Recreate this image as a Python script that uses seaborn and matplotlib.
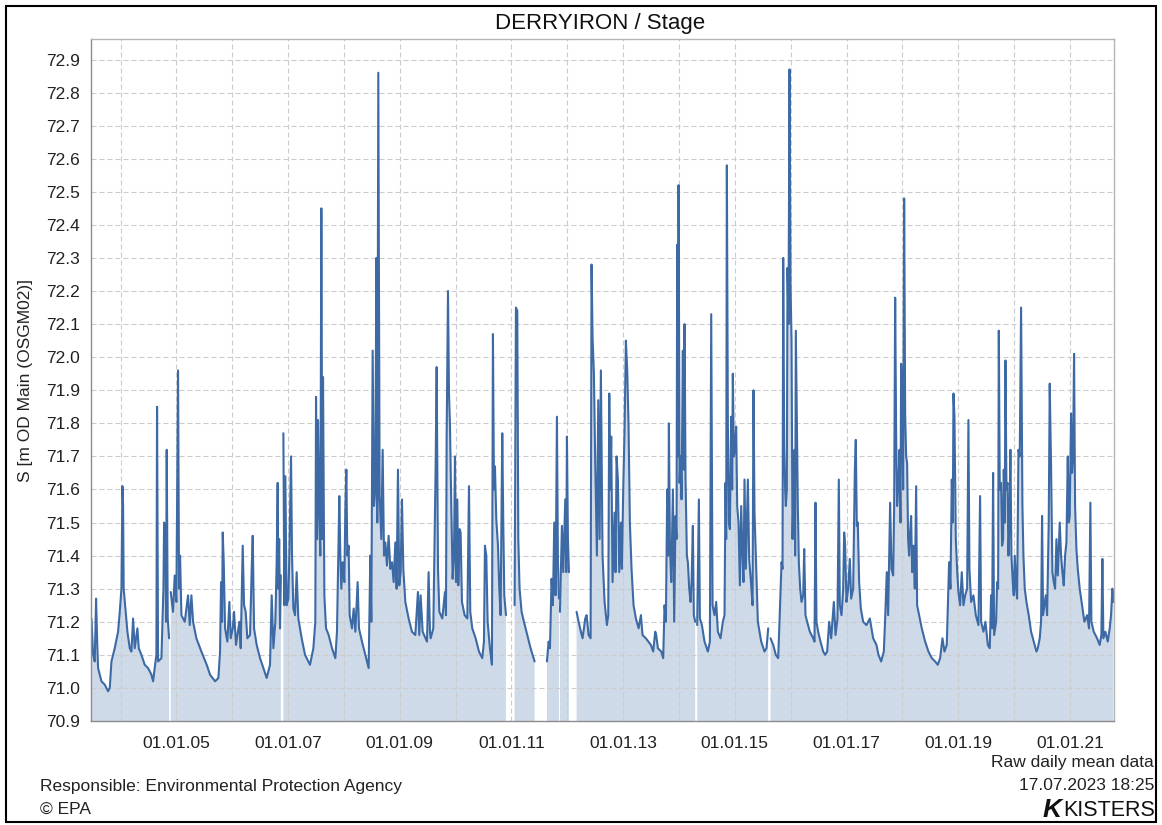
import numpy as np
import pandas as pd
import matplotlib
matplotlib.use('Agg')
import matplotlib.pyplot as plt
import seaborn as sns
from matplotlib.patches import Rectangle
from matplotlib.ticker import MultipleLocator, FixedLocator, FixedFormatter

# Valores: ano decimal e cota (m OD)
years = [
    2003.478, 2003.508, 2003.537, 2003.561, 2003.579, 2003.597, 2003.657, 2003.716, 2003.776, 2003.806, 2003.836, 2003.895,
    2003.955, 2003.985, 2004.015, 2004.033, 2004.045, 2004.055, 2004.086, 2004.122, 2004.164, 2004.194, 2004.224, 2004.253,
    2004.301, 2004.325, 2004.373, 2004.432, 2004.492, 2004.552, 2004.582, 2004.611, 2004.641, 2004.653, 2004.671, 2004.731,
    2004.767, 2004.779, 2004.802, 2004.814, 2004.826, 2004.844, 2004.868, 2004.898, 2004.939, 2004.969, 2004.999, 2005.029,
    2005.047, 2005.065, 2005.089, 2005.149, 2005.208, 2005.238, 2005.268, 2005.298, 2005.357, 2005.447, 2005.542, 2005.602,
    2005.692, 2005.751, 2005.781, 2005.799, 2005.817, 2005.829, 2005.847, 2005.871, 2005.912, 2005.948, 2005.972, 2006.008,
    2006.032, 2006.067, 2006.127, 2006.151, 2006.187, 2006.211, 2006.240, 2006.270, 2006.318, 2006.348, 2006.366, 2006.390,
    2006.437, 2006.497, 2006.557, 2006.616, 2006.676, 2006.706, 2006.736, 2006.771, 2006.795, 2006.813, 2006.825, 2006.840,
    2006.855, 2006.870, 2006.915, 2006.933, 2006.950, 2006.974, 2007.004, 2007.022, 2007.052, 2007.070, 2007.094, 2007.124,
    2007.153, 2007.183, 2007.243, 2007.303, 2007.392, 2007.452, 2007.487, 2007.500, 2007.518, 2007.535, 2007.559, 2007.577,
    2007.595, 2007.613, 2007.625, 2007.649, 2007.679, 2007.726, 2007.786, 2007.846, 2007.875, 2007.917, 2007.935, 2007.953,
    2007.977, 2008.007, 2008.025, 2008.043, 2008.060, 2008.084, 2008.102, 2008.144, 2008.174, 2008.204, 2008.245, 2008.269,
    2008.323, 2008.383, 2008.442, 2008.472, 2008.490, 2008.514, 2008.538, 2008.562, 2008.580, 2008.597, 2008.615, 2008.639,
    2008.669, 2008.693, 2008.717, 2008.741, 2008.770, 2008.800, 2008.830, 2008.860, 2008.890, 2008.920, 2008.943, 2008.967,
    2008.991, 2009.015, 2009.039, 2009.063, 2009.099, 2009.158, 2009.218, 2009.278, 2009.325, 2009.349, 2009.373, 2009.409,
    2009.487, 2009.516, 2009.540, 2009.552, 2009.600, 2009.642, 2009.660, 2009.684, 2009.708, 2009.761, 2009.809, 2009.827,
    2009.839, 2009.863, 2009.881, 2009.898, 2009.922, 2009.946, 2009.970, 2009.988, 2010.006, 2010.030, 2010.048, 2010.071,
    2010.089, 2010.113, 2010.161, 2010.209, 2010.239, 2010.262, 2010.298, 2010.358, 2010.418, 2010.477, 2010.507, 2010.525,
    2010.549, 2010.573, 2010.614, 2010.650, 2010.668, 2010.686, 2010.704, 2010.728, 2010.758, 2010.782, 2010.805, 2010.835,
    2010.853, 2010.871, 2010.901, 2011.056, 2011.080, 2011.104, 2011.122, 2011.145, 2011.181, 2011.223, 2011.283, 2011.342,
    2011.414, 2011.635, 2011.665, 2011.689, 2011.718, 2011.742, 2011.766, 2011.790, 2011.814, 2011.832, 2011.850, 2011.868,
    2011.903, 2011.927, 2011.963, 2011.981, 2011.993, 2012.011, 2012.029, 2012.166, 2012.202, 2012.243, 2012.273, 2012.321,
    2012.345, 2012.381, 2012.417, 2012.434, 2012.452, 2012.476, 2012.500, 2012.530, 2012.554, 2012.578, 2012.601, 2012.631,
    2012.667, 2012.709, 2012.733, 2012.751, 2012.769, 2012.786, 2012.810, 2012.846, 2012.864, 2012.882, 2012.906, 2012.930,
    2012.959, 2012.977, 2013.001, 2013.025, 2013.049, 2013.073, 2013.097, 2013.120, 2013.150, 2013.186, 2013.228, 2013.276,
    2013.318, 2013.347, 2013.407, 2013.496, 2013.538, 2013.574, 2013.592, 2013.622, 2013.682, 2013.717, 2013.741, 2013.765,
    2013.789, 2013.807, 2013.819, 2013.837, 2013.861, 2013.891, 2013.914, 2013.938, 2013.956, 2013.968, 2013.980, 2013.992,
    2014.010, 2014.028, 2014.046, 2014.069, 2014.087, 2014.099, 2014.117, 2014.141, 2014.159, 2014.183, 2014.207, 2014.225,
    2014.248, 2014.266, 2014.290, 2014.326, 2014.356, 2014.374, 2014.410, 2014.457, 2014.517, 2014.553, 2014.577, 2014.601,
    2014.636, 2014.666, 2014.696, 2014.744, 2014.785, 2014.815, 2014.833, 2014.845, 2014.857, 2014.875, 2014.893, 2014.911,
    2014.935, 2014.952, 2014.964, 2014.982, 2015.000, 2015.024, 2015.042, 2015.066, 2015.090, 2015.114, 2015.137, 2015.155,
    2015.173, 2015.197, 2015.233, 2015.257, 2015.293, 2015.317, 2015.334, 2015.352, 2015.376, 2015.412, 2015.472, 2015.531,
    2015.567, 2015.597, 2015.639, 2015.687, 2015.734, 2015.776, 2015.806, 2015.836, 2015.854, 2015.866, 2015.884, 2015.901,
    2015.913, 2015.931, 2015.943, 2015.961, 2015.979, 2015.997, 2016.015, 2016.033, 2016.051, 2016.069, 2016.080, 2016.092,
    2016.110, 2016.128, 2016.146, 2016.170, 2016.194, 2016.224, 2016.242, 2016.265, 2016.295, 2016.343, 2016.403, 2016.427,
    2016.444, 2016.462, 2016.492, 2016.534, 2016.582, 2016.617, 2016.653, 2016.689, 2016.725, 2016.773, 2016.803, 2016.838,
    2016.862, 2016.880, 2016.910, 2016.940, 2016.958, 2016.975, 2016.999, 2017.029, 2017.059, 2017.083, 2017.119, 2017.149,
    2017.166, 2017.184, 2017.202, 2017.226, 2017.256, 2017.298, 2017.357, 2017.417, 2017.477, 2017.536, 2017.572, 2017.620,
    2017.668, 2017.692, 2017.721, 2017.745, 2017.781, 2017.805, 2017.835, 2017.853, 2017.871, 2017.889, 2017.906, 2017.930,
    2017.948, 2017.966, 2017.978, 2017.996, 2018.014, 2018.032, 2018.050, 2018.068, 2018.085, 2018.103, 2018.121, 2018.139,
    2018.157, 2018.175, 2018.199, 2018.223, 2018.247, 2018.264, 2018.300, 2018.348, 2018.408, 2018.467, 2018.527, 2018.587,
    2018.634, 2018.676, 2018.718, 2018.754, 2018.795, 2018.837, 2018.861, 2018.885, 2018.903, 2018.915, 2018.933, 2018.957,
    2018.980, 2019.004, 2019.034, 2019.064, 2019.094, 2019.124, 2019.160, 2019.183, 2019.201, 2019.231, 2019.273, 2019.315,
    2019.362, 2019.392, 2019.410, 2019.452, 2019.488, 2019.530, 2019.565, 2019.589, 2019.607, 2019.625, 2019.643, 2019.679,
    2019.697, 2019.715, 2019.727, 2019.744, 2019.768, 2019.786, 2019.804, 2019.816, 2019.834, 2019.846, 2019.864, 2019.882,
    2019.900, 2019.917, 2019.935, 2019.953, 2019.977, 2019.995, 2020.013, 2020.037, 2020.055, 2020.079, 2020.102, 2020.126,
    2020.150, 2020.168, 2020.192, 2020.222, 2020.263, 2020.305, 2020.353, 2020.401, 2020.425, 2020.460, 2020.484, 2020.502,
    2020.520, 2020.544, 2020.568, 2020.592, 2020.621, 2020.639, 2020.663, 2020.687, 2020.711, 2020.735, 2020.759, 2020.783,
    2020.818, 2020.842, 2020.866, 2020.890, 2020.914, 2020.938, 2020.962, 2020.979, 2020.997, 2021.021, 2021.039, 2021.057,
    2021.075, 2021.093, 2021.117, 2021.141, 2021.176, 2021.218, 2021.260, 2021.308, 2021.343, 2021.367, 2021.385, 2021.427,
    2021.487, 2021.534, 2021.564, 2021.582, 2021.600, 2021.636, 2021.678, 2021.713, 2021.737, 2021.761, 2021.779,
]

stage = [
    71.21, 71.10, 71.08, 71.27, 71.15, 71.06, 71.02, 71.01, 70.99, 71.00, 71.08, 71.12,
    71.17, 71.23, 71.30, 71.61, 71.55, 71.30, 71.24, 71.17, 71.12, 71.11, 71.21, 71.12,
    71.18, 71.12, 71.10, 71.07, 71.06, 71.04, 71.02, 71.06, 71.10, 71.85, 71.08, 71.09,
    71.30, 71.50, 71.47, 71.20, 71.72, 71.21, 71.15, 71.29, 71.23, 71.34, 71.26, 71.96,
    71.30, 71.40, 71.22, 71.20, 71.28, 71.19, 71.28, 71.20, 71.15, 71.11, 71.07, 71.04,
    71.02, 71.03, 71.11, 71.32, 71.20, 71.47, 71.38, 71.18, 71.14, 71.26, 71.15, 71.18,
    71.23, 71.13, 71.20, 71.12, 71.43, 71.25, 71.23, 71.15, 71.16, 71.36, 71.46, 71.18,
    71.13, 71.09, 71.06, 71.03, 71.07, 71.28, 71.12, 71.20, 71.38, 71.62, 71.30, 71.45,
    71.18, 71.34, 71.77, 71.25, 71.64, 71.25, 71.27, 71.40, 71.70, 71.40, 71.24, 71.22,
    71.35, 71.21, 71.15, 71.10, 71.07, 71.12, 71.20, 71.88, 71.45, 71.81, 71.52, 71.40,
    72.45, 71.45, 71.94, 71.28, 71.18, 71.16, 71.12, 71.09, 71.17, 71.58, 71.40, 71.30,
    71.38, 71.32, 71.54, 71.66, 71.40, 71.43, 71.22, 71.18, 71.24, 71.17, 71.32, 71.18,
    71.14, 71.10, 71.06, 71.40, 71.20, 72.02, 71.55, 71.60, 72.30, 71.50, 72.86, 71.58,
    71.45, 71.72, 71.40, 71.44, 71.37, 71.46, 71.36, 71.38, 71.32, 71.44, 71.30, 71.66,
    71.31, 71.35, 71.57, 71.36, 71.26, 71.21, 71.17, 71.16, 71.29, 71.16, 71.28, 71.17,
    71.14, 71.35, 71.17, 71.15, 71.18, 71.67, 71.97, 71.36, 71.23, 71.21, 71.29, 71.22,
    71.76, 72.20, 71.89, 71.80, 71.55, 71.33, 71.40, 71.70, 71.32, 71.57, 71.31, 71.48,
    71.47, 71.26, 71.22, 71.21, 71.61, 71.23, 71.18, 71.15, 71.11, 71.09, 71.14, 71.43,
    71.40, 71.20, 71.12, 71.07, 72.07, 71.60, 71.67, 71.51, 71.43, 71.30, 71.22, 71.77,
    71.50, 71.28, 71.22, 71.25, 72.15, 72.14, 71.45, 71.30, 71.23, 71.20, 71.16, 71.12,
    71.08, 71.08, 71.14, 71.12, 71.33, 71.25, 71.50, 71.28, 71.82, 71.38, 71.27, 71.23,
    71.49, 71.35, 71.57, 71.35, 71.76, 71.45, 71.35, 71.23, 71.20, 71.17, 71.15, 71.21,
    71.22, 71.16, 71.15, 72.28, 72.06, 71.95, 71.68, 71.40, 71.87, 71.45, 71.96, 71.40,
    71.26, 71.19, 71.22, 71.89, 71.60, 71.76, 71.32, 71.53, 71.35, 71.70, 71.63, 71.35,
    71.50, 71.36, 71.60, 71.78, 72.05, 71.96, 71.79, 71.50, 71.36, 71.25, 71.21, 71.18,
    71.22, 71.16, 71.15, 71.13, 71.11, 71.17, 71.16, 71.12, 71.11, 71.09, 71.25, 71.20,
    71.60, 71.40, 71.80, 71.43, 71.32, 71.60, 71.20, 71.52, 71.45, 72.34, 71.70, 72.52,
    71.62, 71.70, 71.57, 72.02, 71.66, 72.10, 71.63, 71.40, 71.38, 71.30, 71.26, 71.32,
    71.49, 71.22, 71.20, 71.19, 71.57, 71.21, 71.19, 71.14, 71.11, 71.14, 72.13, 71.25,
    71.22, 71.26, 71.17, 71.15, 71.20, 71.22, 71.62, 71.45, 72.58, 71.80, 71.50, 71.48,
    71.82, 71.60, 71.95, 71.70, 71.72, 71.79, 71.55, 71.50, 71.31, 71.55, 71.40, 71.32,
    71.63, 71.36, 71.63, 71.39, 71.31, 71.25, 71.90, 71.53, 71.40, 71.20, 71.14, 71.11,
    71.12, 71.18, 71.15, 71.13, 71.10, 71.09, 71.23, 71.38, 71.36, 72.30, 71.73, 71.60,
    71.55, 71.60, 72.27, 72.10, 72.87, 72.22, 72.05, 71.45, 71.60, 71.72, 71.40, 72.08,
    71.80, 71.55, 71.38, 71.30, 71.26, 71.28, 71.42, 71.22, 71.20, 71.17, 71.15, 71.14,
    71.56, 71.20, 71.17, 71.14, 71.11, 71.10, 71.11, 71.20, 71.15, 71.26, 71.16, 71.21,
    71.63, 71.25, 71.22, 71.30, 71.47, 71.43, 71.26, 71.30, 71.39, 71.27, 71.30, 71.66,
    71.75, 71.49, 71.50, 71.32, 71.24, 71.20, 71.19, 71.21, 71.15, 71.13, 71.10, 71.08,
    71.11, 71.21, 71.35, 71.22, 71.56, 71.36, 71.34, 71.55, 72.18, 71.76, 71.55, 71.62,
    71.72, 71.50, 71.98, 71.88, 71.60, 72.48, 71.83, 71.70, 71.68, 71.45, 71.40, 71.47,
    71.52, 71.35, 71.43, 71.30, 71.61, 71.25, 71.22, 71.18, 71.14, 71.11, 71.09, 71.08,
    71.07, 71.09, 71.15, 71.11, 71.13, 71.38, 71.30, 71.63, 71.50, 71.89, 71.82, 71.45,
    71.36, 71.29, 71.25, 71.35, 71.25, 71.28, 71.30, 71.81, 71.36, 71.26, 71.28, 71.22,
    71.19, 71.58, 71.20, 71.17, 71.20, 71.13, 71.12, 71.28, 71.18, 71.65, 71.16, 71.20,
    71.32, 71.30, 72.08, 71.60, 71.62, 71.43, 71.45, 71.66, 71.50, 71.99, 71.60, 71.62,
    71.40, 71.50, 71.72, 71.40, 71.32, 71.28, 71.40, 71.30, 71.27, 71.72, 71.70, 72.15,
    71.55, 71.40, 71.30, 71.26, 71.22, 71.17, 71.14, 71.11, 71.12, 71.15, 71.20, 71.52,
    71.22, 71.25, 71.28, 71.22, 71.50, 71.92, 71.67, 71.35, 71.32, 71.30, 71.45, 71.34,
    71.50, 71.40, 71.35, 71.31, 71.40, 71.44, 71.70, 71.50, 71.52, 71.83, 71.65, 71.70,
    72.01, 71.55, 71.42, 71.36, 71.30, 71.25, 71.20, 71.22, 71.18, 71.56, 71.20, 71.17,
    71.15, 71.13, 71.16, 71.39, 71.15, 71.17, 71.14, 71.18, 71.22, 71.30, 71.26,
]

# Períodos sem dados (falhas na série)
gap_years = [2004.883, 2006.885, 2010.980, 2011.520, 2011.859, 2012.100, 2014.308, 2015.618]

x_tick_years = [2005, 2007, 2009, 2011, 2013, 2015, 2017, 2019, 2021]
x_tick_labels = ['01.01.05', '01.01.07', '01.01.09', '01.01.11', '01.01.13',
                 '01.01.15', '01.01.17', '01.01.19', '01.01.21']

assert len(years) == len(stage)

LINHA = '#3d6aa5'
AREA = '#cfdae9'
BASE = 70.9

df = pd.DataFrame({'ano': years + gap_years,
                   'cota': stage + [np.nan] * len(gap_years)})
df = df.sort_values('ano').reset_index(drop=True)
df['trecho'] = df['cota'].isna().cumsum()

sns.set_theme(style='white')
plt.rcParams['font.family'] = ['Liberation Sans', 'DejaVu Sans']

fig = plt.figure(figsize=(11.62, 8.25), dpi=100)
ax = fig.add_axes([91 / 1162, 1 - 721 / 825, (1114 - 91) / 1162, (721 - 39) / 825])

# Área preenchida até a base do eixo (NaN deixa as falhas em branco)
ax.fill_between(df['ano'].to_numpy(float), df['cota'].to_numpy(float), BASE,
                color=AREA, lw=0, zorder=1)

sns.lineplot(data=df.dropna(), x='ano', y='cota', units='trecho', estimator=None,
             sort=False, color=LINHA, lw=1.5, ax=ax, zorder=3)

ax.set_xlim(2003.47, 2021.79)
ax.set_ylim(BASE, 72.962)

ax.xaxis.set_major_locator(FixedLocator(x_tick_years))
ax.xaxis.set_major_formatter(FixedFormatter(x_tick_labels))
ax.xaxis.set_minor_locator(MultipleLocator(1))
ax.yaxis.set_major_locator(MultipleLocator(0.1))
ax.yaxis.set_major_formatter(matplotlib.ticker.FormatStrFormatter('%.1f'))

# Grade tracejada por cima da área, mas por baixo da linha
grade = dict(color='#cccccc', lw=0.8, ls=(0, (4.5, 2.7)))
ax.grid(True, which='both', axis='x', **grade)
ax.grid(True, which='major', axis='y', **grade)
ax.set_axisbelow(False)
for ln in ax.get_xgridlines() + ax.get_ygridlines() + ax.xaxis.get_minorticklines():
    ln.set_zorder(2)
for t in ax.xaxis.get_minor_ticks():
    t.gridline.set_zorder(2)

ax.tick_params(axis='both', which='major', direction='out', length=4, width=1,
               color='#808080', labelsize=12.5, labelcolor='#222222')
ax.tick_params(axis='x', which='major', pad=7)
ax.tick_params(axis='y', which='major', pad=4)
ax.tick_params(axis='x', which='minor', length=0)

for lado, s in ax.spines.items():
    s.set_color('#8c8c8c' if lado in ('left', 'bottom') else '#b4b4b4')
    s.set_linewidth(1.0)
    s.set_zorder(4)

ax.set_xlabel('')
ax.set_ylabel('S [m OD Main (OSGM02)]', fontsize=12.5, color='#222222')
ax.yaxis.set_label_coords((33 - 91) / 1023, 0.5)

fig.text(600 / 1162, 1 - 23 / 825, 'DERRYIRON / Stage', ha='center', va='center',
         fontsize=16, color='#111111')

fig.text(1154 / 1162, 1 - 762 / 825, 'Raw daily mean data', ha='right', va='center',
         fontsize=12.5, color='#222222')
fig.text(1154 / 1162, 1 - 786 / 825, '17.07.2023 18:25', ha='right', va='center',
         fontsize=12.5, color='#222222')
fig.text(40 / 1162, 1 - 786 / 825, 'Responsible: Environmental Protection Agency',
         ha='left', va='center', fontsize=12.5, color='#222222')
fig.text(40 / 1162, 1 - 809 / 825, '© EPA', ha='left', va='center',
         fontsize=12.5, color='#222222')
fig.text(1062 / 1162, 1 - 810 / 825, 'K', ha='right', va='center', fontsize=19,
         fontweight='heavy', fontstyle='italic', color='#111111')
fig.text(1155 / 1162, 1 - 810 / 825, 'KISTERS', ha='right', va='center',
         fontsize=15.5, color='#111111')

# Moldura externa
fig.patches.append(Rectangle((6 / 1162, 1 - 822 / 825), 1150 / 1162, 816 / 825,
                             transform=fig.transFigure, fill=False, ec='black', lw=1.5))

fig.savefig('out.png', dpi=100, facecolor='white')
